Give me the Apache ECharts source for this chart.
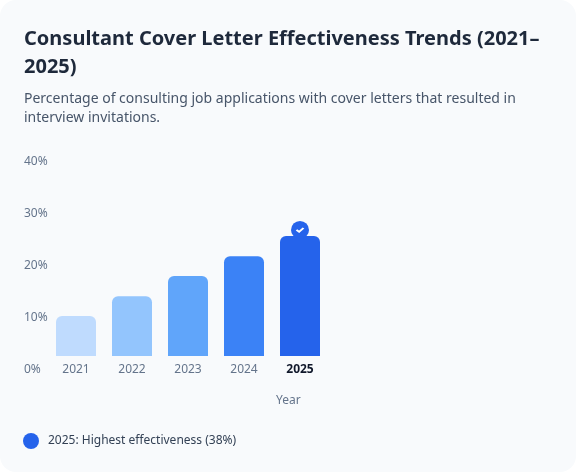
<!DOCTYPE html>
<html>
<head>
<meta charset="utf-8">
<script src="https://cdn.jsdelivr.net/npm/echarts@6/dist/echarts.min.js"></script>
<style>
  html, body { margin: 0; padding: 0; background: #ffffff; }
  #card { width: 576px; height: 472px; background: #f8fafc; border-radius: 16px; overflow: hidden; }
  #chart { width: 576px; height: 472px; }
</style>
</head>
<body>
<div id="card"><div id="chart"></div></div>
<script>
const years = ['2021', '2022', '2023', '2024', '2025'];
const effectiveness = [7.7, 11.5, 15.4, 19.2, 23.1];
const barColors = ['#bfdbfe', '#93c5fd', '#60a5fa', '#3b82f6', '#2563eb'];
const yTicks = [0, 10, 20, 30, 40];
const highlightName = '2025: Highest effectiveness (38%)';

const chart = echarts.init(document.getElementById('chart'), null, { renderer: 'canvas' });
const font = '"Noto Sans", "Open Sans", sans-serif';
const badgeData = effectiveness.map(function (v, i) { return i === effectiveness.length - 1 ? v : null; });

chart.setOption({
  backgroundColor: 'transparent',
  animation: false,
  textStyle: { fontFamily: font },
  title: {
    text: 'Consultant Cover Letter Effectiveness Trends (2021–\n2025)',
    subtext: 'Percentage of consulting job applications with cover letters that resulted in\ninterview invitations.',
    left: 24,
    top: 25,
    itemGap: 9,
    padding: 0,
    textStyle: { fontFamily: font, fontSize: 20, fontWeight: 700, color: '#1e293b', lineHeight: 28 },
    subtextStyle: { fontFamily: font, fontSize: 14, color: '#475569', lineHeight: 19 }
  },
  legend: {
    data: [{ name: highlightName, icon: 'circle' }],
    left: 23,
    top: 433,
    padding: 0,
    itemWidth: 16,
    itemHeight: 16,
    textStyle: { fontFamily: font, fontSize: 12, color: '#334155', padding: [0, 0, 0, 4] }
  },
  grid: { left: 48, top: 148, width: 280, height: 208, containLabel: false },
  xAxis: {
    type: 'category',
    data: years,
    axisLine: { show: false },
    axisTick: { show: false },
    axisLabel: {
      interval: 0,
      margin: 8,
      fontFamily: font,
      fontSize: 12,
      color: '#64748b',
      formatter: function (v) { return v === '2025' ? '{b|' + v + '}' : v; },
      rich: { b: { fontFamily: font, fontSize: 12, fontWeight: 700, color: '#0f172a' } }
    }
  },
  yAxis: {
    type: 'value',
    min: yTicks[0],
    max: yTicks[yTicks.length - 1],
    interval: 10,
    splitLine: { show: false },
    axisLine: { show: false },
    axisTick: { show: false },
    axisLabel: {
      align: 'left',
      margin: 24,
      verticalAlign: 'top',
      padding: [8, 0, 0, 0],
      fontFamily: font,
      fontSize: 12,
      color: '#64748b',
      formatter: '{value}%'
    }
  },
  series: [
    {
      type: 'bar',
      name: 'Effectiveness',
      barWidth: 40,
      data: effectiveness.map(function (v, i) {
        return { value: v, itemStyle: { color: barColors[i], borderRadius: [6, 6, 0, 0] } };
      })
    },
    {
      type: 'scatter',
      name: highlightName,
      symbol: 'circle',
      symbolSize: 18,
      symbolOffset: [0, -6],
      itemStyle: { color: '#2563eb', opacity: 1 },
      z: 5,
      data: badgeData
    },
    {
      type: 'scatter',
      name: 'check',
      symbol: 'path://M0,3 L3,6 L8,0',
      symbolSize: [7, 5],
      symbolOffset: [0, -6],
      symbolKeepAspect: true,
      itemStyle: { color: 'transparent', borderColor: '#ffffff', borderWidth: 1.8, opacity: 1 },
      z: 6,
      silent: true,
      data: badgeData
    }
  ],
  graphic: [
    {
      type: 'text',
      left: 276,
      top: 395,
      style: { text: 'Year', fill: '#64748b', font: '12px ' + font }
    }
  ]
});
</script>
</body>
</html>
